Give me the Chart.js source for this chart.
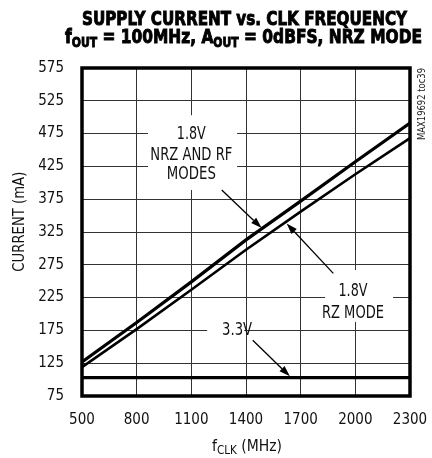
<!DOCTYPE html>
<html><head><meta charset="utf-8">
<script src="https://cdn.jsdelivr.net/npm/chart.js@4.4.1/dist/chart.umd.min.js"></script>
<style>html,body{margin:0;padding:0;background:#fff;}#wrap{width:432px;height:458px;}</style>
</head><body><div id="wrap"><canvas id="c" width="432" height="458"></canvas></div>
<script>
// ---- data ----
const clkFreqMHz = [500, 800, 1100, 1400, 1700, 2000, 2300];
const current18NrzRf = [127, 187, 249, 313, 372, 432, 491];
const current18Rz = [119, 177, 237, 298, 356, 413, 468];
const current33 = [103, 103, 103, 103, 103, 103, 103];
const xTickValues = [500, 800, 1100, 1400, 1700, 2000, 2300];
const yTickValues = [75, 125, 175, 225, 275, 325, 375, 425, 475, 525, 575];

const NARROW = '"Liberation Sans Narrow", "Arial Narrow", "DejaVu Sans Condensed", sans-serif';
const TICKFONT = '"DejaVu Sans Condensed", "Liberation Sans", sans-serif';

function pts(ys) { return clkFreqMHz.map((x, i) => ({ x: x, y: ys[i] })); }

function scaledText(ctx, text, x, y, font, width, align, stroke) {
  ctx.save();
  ctx.font = font;
  const w = ctx.measureText(text).width;
  const sx = width ? width / w : 1;
  ctx.translate(x, y);
  ctx.scale(sx, 1);
  ctx.textAlign = align || 'center';
  ctx.fillText(text, 0, 0);
  if (stroke) { ctx.lineWidth = stroke; ctx.strokeStyle = ctx.fillStyle; ctx.strokeText(text, 0, 0); }
  ctx.restore();
}

function segText(ctx, segs, cx, y, targetW, mainFont, subFont, subDy, stroke) {
  ctx.save();
  let total = 0;
  segs.forEach(s => { ctx.font = s.sub ? subFont : mainFont; s.w = ctx.measureText(s.t).width; total += s.w; });
  const sx = targetW ? targetW / total : 1;
  ctx.translate(cx - total * sx / 2, y);
  ctx.scale(sx, 1);
  ctx.textAlign = 'left';
  ctx.textBaseline = 'alphabetic';
  ctx.strokeStyle = ctx.fillStyle;
  let xx = 0;
  segs.forEach(s => {
    ctx.font = s.sub ? subFont : mainFont;
    ctx.fillText(s.t, xx, s.sub ? subDy : 0);
    if (stroke) { ctx.lineWidth = stroke; ctx.strokeText(s.t, xx, s.sub ? subDy : 0); }
    xx += s.w;
  });
  ctx.restore();
}

function arrow(ctx, x0, y0, x1, y1) {
  const a = Math.atan2(y1 - y0, x1 - x0);
  const L = 11, H = 3.6;
  ctx.save();
  ctx.strokeStyle = '#000'; ctx.fillStyle = '#000'; ctx.lineWidth = 1.3;
  ctx.beginPath(); ctx.moveTo(x0, y0);
  ctx.lineTo(x1 - Math.cos(a) * L, y1 - Math.sin(a) * L); ctx.stroke();
  ctx.beginPath(); ctx.moveTo(x1, y1);
  ctx.lineTo(x1 - Math.cos(a) * L - Math.sin(a) * H, y1 - Math.sin(a) * L + Math.cos(a) * H);
  ctx.lineTo(x1 - Math.cos(a) * L + Math.sin(a) * H, y1 - Math.sin(a) * L - Math.cos(a) * H);
  ctx.closePath(); ctx.fill();
  ctx.restore();
}

const masks = [
  { x0: 862, x1: 1351, y0: 389, y1: 503 },
  { x0: 1834, x1: 2207, y0: 188, y1: 267 },
  { x0: 1187, x1: 1390, y0: 163, y1: 193 }
];
const arrows = [
  { x0: 1267, y0: 389, x1: 1486, y1: 331 },
  { x0: 1879, y0: 262, x1: 1623, y1: 338 },
  { x0: 1437, y0: 160, x1: 1641, y1: 105 }
];
const labels = [
  { x: 1100, y: 467.5, t: '1.8V', w: 29 },
  { x: 1100, y: 435.5, t: 'NRZ AND RF', w: 82 },
  { x: 1100, y: 406.5, t: 'MODES', w: 49 },
  { x: 1987, y: 227.4, t: '1.8V', w: 29 },
  { x: 1987, y: 194.4, t: 'RZ MODE', w: 62 },
  { x: 1351, y: 168, t: '3.3V', w: 30 }
];

const decor = {
  id: 'decor',
  beforeDatasetsDraw(chart) {
    const ctx = chart.ctx, sx = chart.scales.x, sy = chart.scales.y;
    ctx.save(); ctx.fillStyle = '#fff';
    masks.forEach(m => {
      const a = sx.getPixelForValue(m.x0), b = sx.getPixelForValue(m.x1);
      const c = sy.getPixelForValue(m.y1), d = sy.getPixelForValue(m.y0);
      ctx.fillRect(a, c, b - a, d - c);
    });
    ctx.restore();
  },
  afterDatasetsDraw(chart) {
    const ctx = chart.ctx, sx = chart.scales.x, sy = chart.scales.y, ca = chart.chartArea;
    ctx.save();
    ctx.strokeStyle = '#000'; ctx.lineWidth = 3.5;
    ctx.strokeRect(ca.left, ca.top, ca.right - ca.left, ca.bottom - ca.top);
    ctx.restore();
    arrows.forEach(r => arrow(ctx, sx.getPixelForValue(r.x0), sy.getPixelForValue(r.y0), sx.getPixelForValue(r.x1), sy.getPixelForValue(r.y1)));
    ctx.save(); ctx.fillStyle = '#111'; ctx.textBaseline = 'alphabetic';
    labels.forEach(l => scaledText(ctx, l.t, sx.getPixelForValue(l.x), sy.getPixelForValue(l.y), '17px ' + NARROW, l.w, 'center'));
    ctx.restore();
    ctx.save(); ctx.fillStyle = '#000';
    segText(ctx, [{ t: 'SUPPLY CURRENT vs. CLK FREQUENCY' }], 244.5, 25, 325, 'bold 20px ' + NARROW, 'bold 14px ' + NARROW, 0, 0.9);
    segText(ctx, [{ t: 'f' }, { t: 'OUT', sub: true }, { t: ' = 100MHz, A' }, { t: 'OUT', sub: true }, { t: ' = 0dBFS, NRZ MODE' }], 243.5, 43.3, 357, 'bold 20px ' + NARROW, 'bold 14px ' + NARROW, 4, 0.9);
    ctx.restore();
    ctx.save(); ctx.fillStyle = '#111';
    segText(ctx, [{ t: 'f' }, { t: 'CLK', sub: true }, { t: ' (MHz)' }], 247, 451, 70, '16px ' + NARROW, '12px ' + NARROW, 3);
    ctx.translate(24, 221.7); ctx.rotate(-Math.PI / 2);
    scaledText(ctx, 'CURRENT (mA)', 0, 0, '16px ' + NARROW, 100, 'center');
    ctx.restore();
    ctx.save(); ctx.fillStyle = '#222';
    ctx.translate(424.5, 104); ctx.rotate(-Math.PI / 2);
    scaledText(ctx, 'MAX19692 toc39', 0, 0, '10px ' + NARROW, 72, 'center');
    ctx.restore();
  }
};

new Chart(document.getElementById('c'), {
  type: 'line',
  data: {
    datasets: [
      { label: '1.8V NRZ and RF modes', data: pts(current18NrzRf), borderColor: '#000', borderWidth: 3.2, pointRadius: 0, tension: 0 },
      { label: '1.8V RZ mode', data: pts(current18Rz), borderColor: '#000', borderWidth: 2.6, pointRadius: 0, tension: 0 },
      { label: '3.3V', data: pts(current33), borderColor: '#000', borderWidth: 3.2, pointRadius: 0, tension: 0 }
    ]
  },
  plugins: [decor],
  options: {
    responsive: false,
    animation: false,
    events: [],
    layout: { padding: { top: 68, right: 22, left: 0, bottom: 0 } },
    plugins: { legend: { display: false }, tooltip: { enabled: false }, title: { display: false } },
    scales: {
      x: {
        type: 'linear', min: 500, max: 2300,
        afterBuildTicks: s => { s.ticks = xTickValues.map(v => ({ value: v })); },
        afterFit: s => { s.height = 62; s.paddingLeft = 0; s.paddingRight = 0; },
        grid: { color: '#333', lineWidth: 1, drawTicks: false },
        border: { display: false },
        ticks: { color: '#111', font: { family: TICKFONT, size: 15 }, padding: 15, maxRotation: 0, autoSkip: false, callback: v => String(v) }
      },
      y: {
        type: 'linear', min: 75, max: 575,
        afterBuildTicks: s => { s.ticks = yTickValues.map(v => ({ value: v })); },
        afterFit: s => { s.width = 82; s.paddingTop = 0; s.paddingBottom = 0; },
        grid: { color: '#333', lineWidth: 1, drawTicks: false },
        border: { display: false },
        ticks: { color: '#111', font: { family: TICKFONT, size: 15 }, padding: 18, autoSkip: false, callback: v => String(v) }
      }
    }
  }
});
</script></body></html>
